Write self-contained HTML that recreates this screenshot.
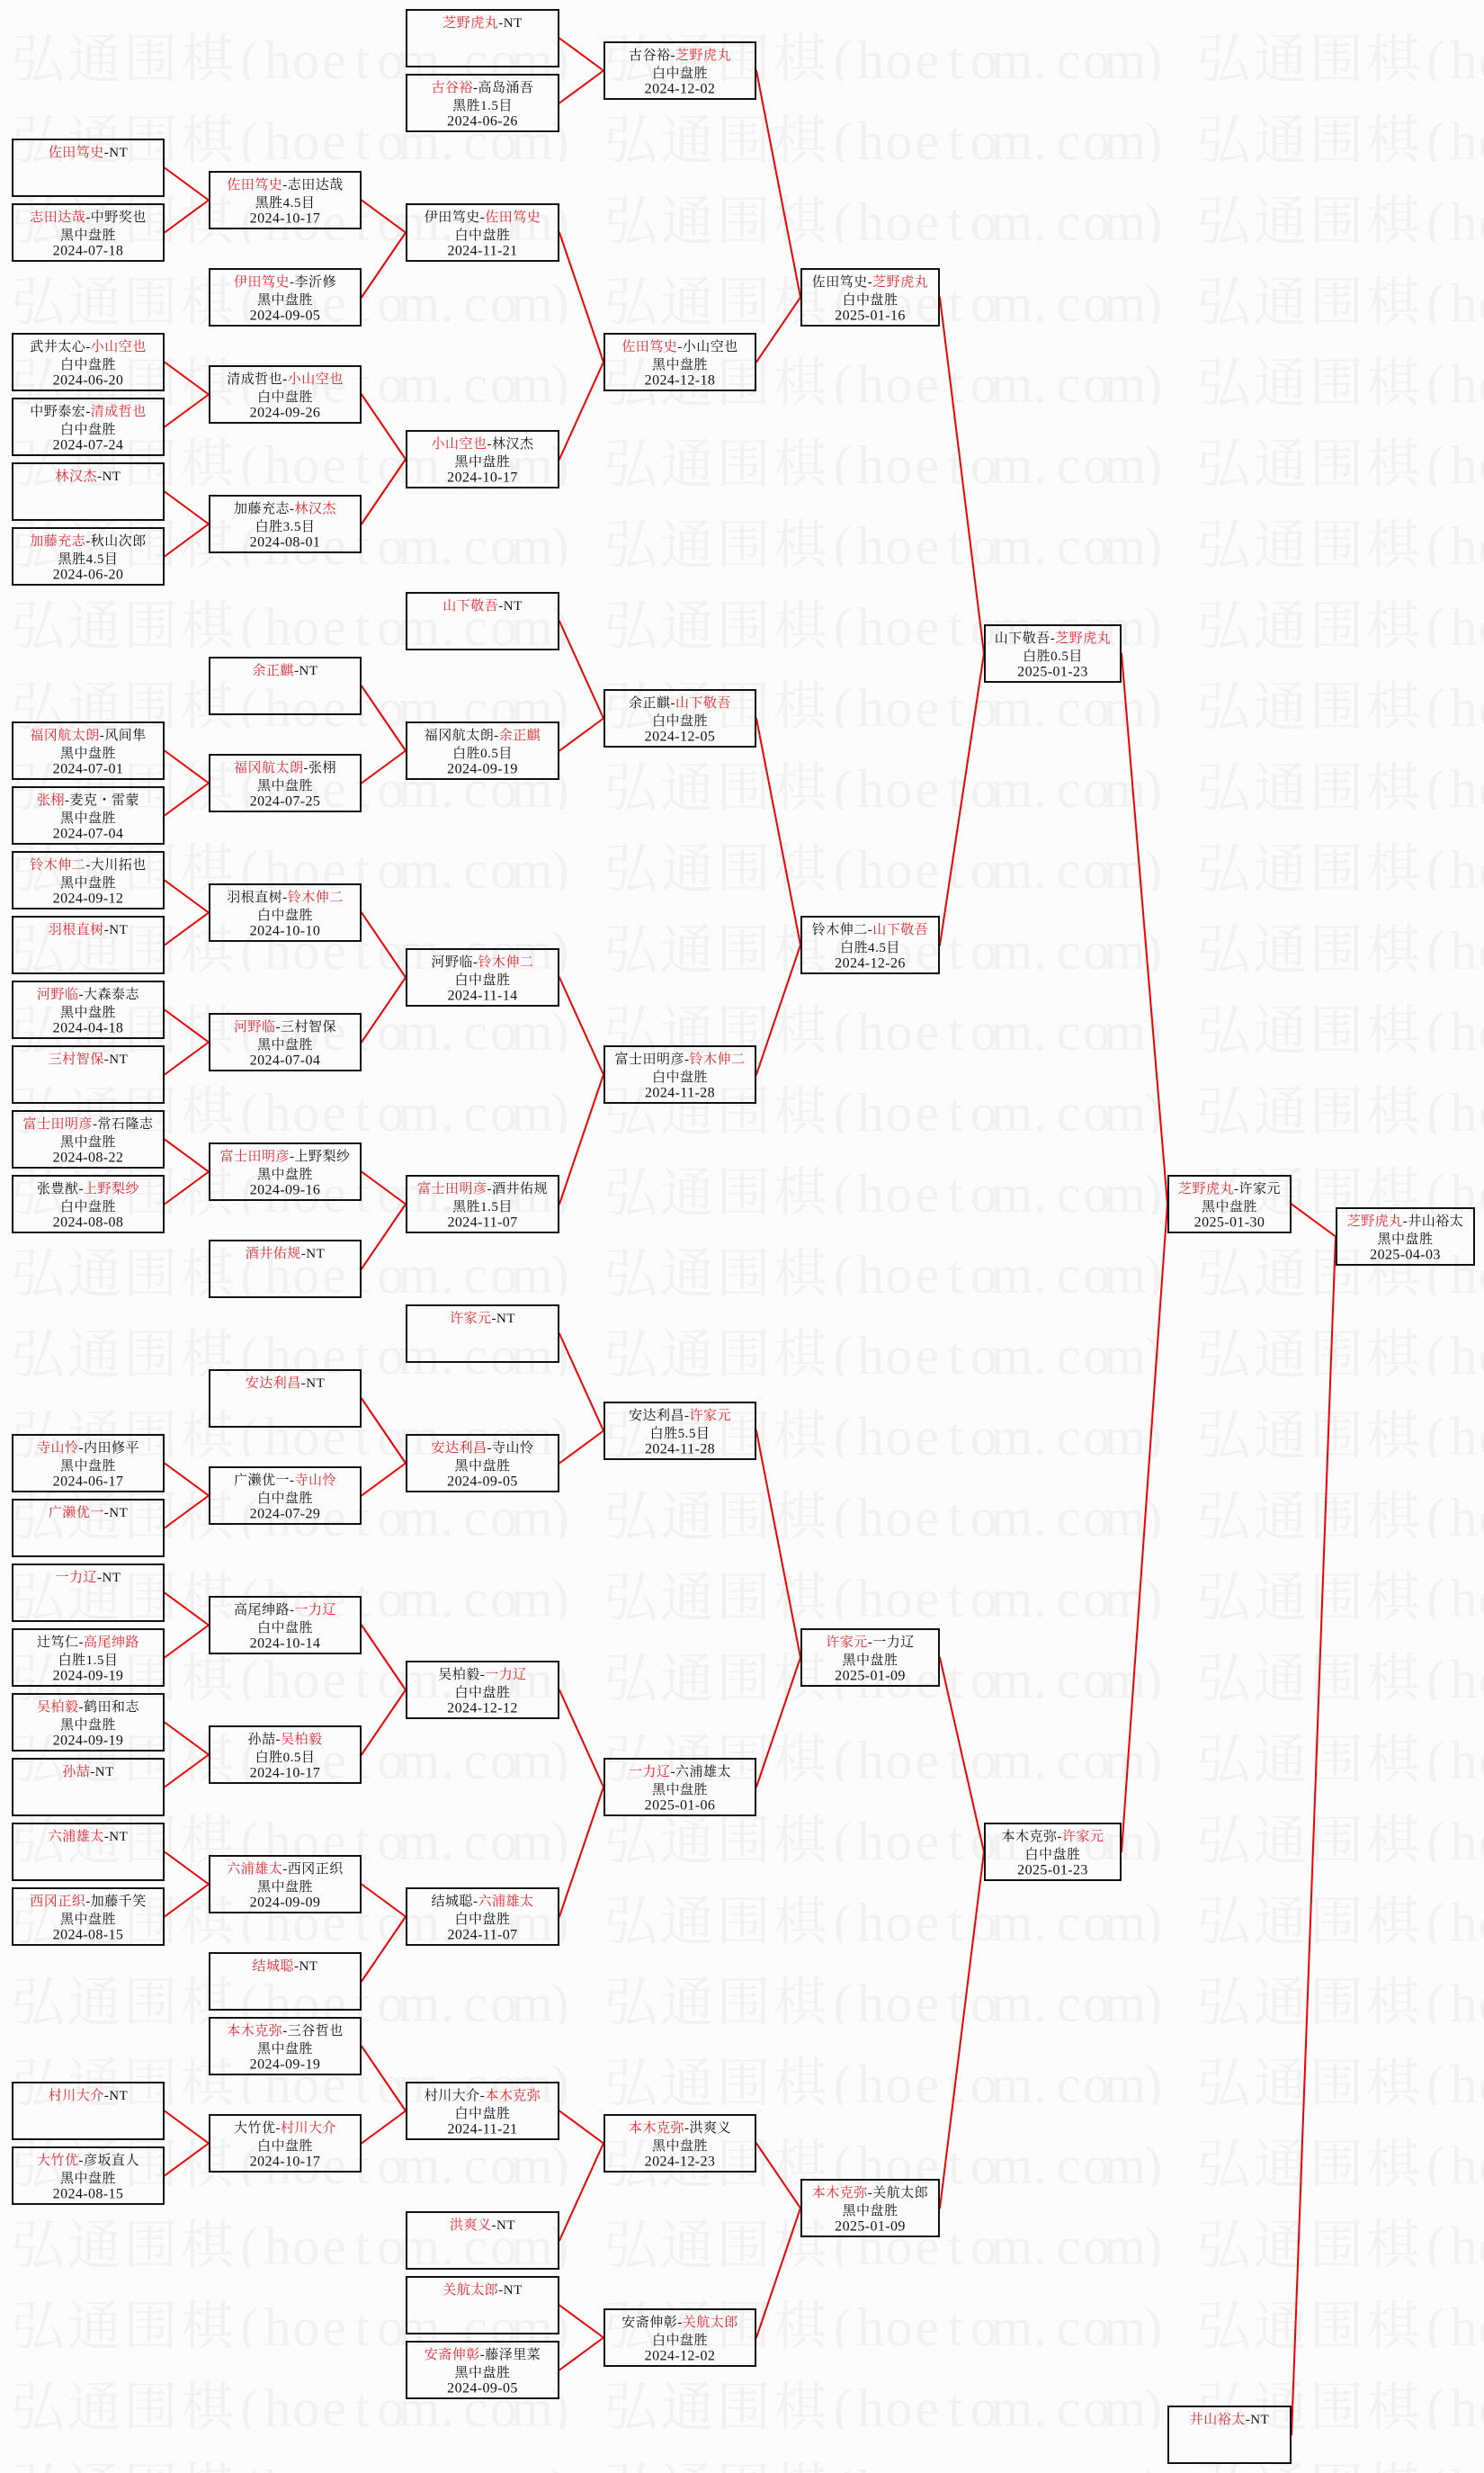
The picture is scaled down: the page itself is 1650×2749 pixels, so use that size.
<!DOCTYPE html>
<html lang="zh">
<head>
<meta charset="utf-8">
<style>
html,body{margin:0;padding:0;background:#fcfcfc;}
body{width:1650px;height:2749px;overflow:hidden;}
svg{display:block;}
.wm text{font-family:"Liberation Serif","Noto Serif CJK SC",serif;font-size:60px;fill:#f1f1f1;text-anchor:middle;}
.bx text{font-family:"Liberation Serif","Noto Serif CJK SC",serif;font-size:15px;fill:#111;text-anchor:middle;letter-spacing:0.5px;}
.bx text.d{font-size:16px;letter-spacing:0.4px;}
.bx tspan.r{fill:#e3262e;}
.bx rect{fill:none;stroke:#111;stroke-width:2;}
.ln line{stroke:#ee0000;stroke-width:2;stroke-linecap:round;}
</style>
</head>
<body>
<svg width="1650" height="2749" viewBox="0 0 1650 2749" xmlns="http://www.w3.org/2000/svg">
<defs>
<pattern id="wmp" x="0" y="0" width="1650" height="90" patternUnits="userSpaceOnUse">
<g class="wm"><text x="41.9 104.7 167.5 230.3 277.4 308.8 340.2 371.6 403 434.4 465.8 497.2 528.6 560 591.4 622.8 701.2 764 826.8 889.6 936.7 968.1 999.5 1030.9 1062.3 1093.7 1125.1 1156.5 1187.9 1219.3 1250.7 1282.1 1360.5 1423.3 1486.1 1548.9 1596 1627.4 1658.8" y="87">弘通围棋(hoetom.com)弘通围棋(hoetom.com)弘通围棋(ho</text></g>
</pattern>
</defs>
<rect x="0" y="4" width="1650" height="2745" fill="url(#wmp)"/>

<g class="ln">
<line x1="183" y1="186.5" x2="232" y2="222.5"/>
<line x1="183" y1="258.5" x2="232" y2="222.5"/>
<line x1="183" y1="402.5" x2="232" y2="438.5"/>
<line x1="183" y1="474.5" x2="232" y2="438.5"/>
<line x1="183" y1="546.5" x2="232" y2="582.5"/>
<line x1="183" y1="618.5" x2="232" y2="582.5"/>
<line x1="183" y1="834.5" x2="232" y2="870.5"/>
<line x1="183" y1="906.5" x2="232" y2="870.5"/>
<line x1="183" y1="978.5" x2="232" y2="1014.5"/>
<line x1="183" y1="1050.5" x2="232" y2="1014.5"/>
<line x1="183" y1="1122.5" x2="232" y2="1158.5"/>
<line x1="183" y1="1194.5" x2="232" y2="1158.5"/>
<line x1="183" y1="1266.5" x2="232" y2="1302.5"/>
<line x1="183" y1="1338.5" x2="232" y2="1302.5"/>
<line x1="183" y1="1626.5" x2="232" y2="1662.5"/>
<line x1="183" y1="1698.5" x2="232" y2="1662.5"/>
<line x1="183" y1="1770.5" x2="232" y2="1806.5"/>
<line x1="183" y1="1842.5" x2="232" y2="1806.5"/>
<line x1="183" y1="1914.5" x2="232" y2="1950.5"/>
<line x1="183" y1="1986.5" x2="232" y2="1950.5"/>
<line x1="183" y1="2058.5" x2="232" y2="2094.5"/>
<line x1="183" y1="2130.5" x2="232" y2="2094.5"/>
<line x1="183" y1="2346.5" x2="232" y2="2382.5"/>
<line x1="183" y1="2418.5" x2="232" y2="2382.5"/>

<line x1="402" y1="222.5" x2="451" y2="258.5"/>
<line x1="402" y1="330.5" x2="451" y2="258.5"/>
<line x1="402" y1="438.5" x2="451" y2="510.5"/>
<line x1="402" y1="582.5" x2="451" y2="510.5"/>
<line x1="402" y1="762.5" x2="451" y2="834.5"/>
<line x1="402" y1="870.5" x2="451" y2="834.5"/>
<line x1="402" y1="1014.5" x2="451" y2="1086.5"/>
<line x1="402" y1="1158.5" x2="451" y2="1086.5"/>
<line x1="402" y1="1302.5" x2="451" y2="1338.5"/>
<line x1="402" y1="1410.5" x2="451" y2="1338.5"/>
<line x1="402" y1="1554.5" x2="451" y2="1626.5"/>
<line x1="402" y1="1662.5" x2="451" y2="1626.5"/>
<line x1="402" y1="1806.5" x2="451" y2="1878.5"/>
<line x1="402" y1="1950.5" x2="451" y2="1878.5"/>
<line x1="402" y1="2094.5" x2="451" y2="2130.5"/>
<line x1="402" y1="2202.5" x2="451" y2="2130.5"/>
<line x1="402" y1="2274.5" x2="451" y2="2346.5"/>
<line x1="402" y1="2382.5" x2="451" y2="2346.5"/>

<line x1="622" y1="42.5" x2="671" y2="78.5"/>
<line x1="622" y1="114.5" x2="671" y2="78.5"/>
<line x1="622" y1="258.5" x2="671" y2="402.5"/>
<line x1="622" y1="510.5" x2="671" y2="402.5"/>
<line x1="622" y1="690.5" x2="671" y2="798.5"/>
<line x1="622" y1="834.5" x2="671" y2="798.5"/>
<line x1="622" y1="1086.5" x2="671" y2="1194.5"/>
<line x1="622" y1="1338.5" x2="671" y2="1194.5"/>
<line x1="622" y1="1482.5" x2="671" y2="1590.5"/>
<line x1="622" y1="1626.5" x2="671" y2="1590.5"/>
<line x1="622" y1="1878.5" x2="671" y2="1986.5"/>
<line x1="622" y1="2130.5" x2="671" y2="1986.5"/>
<line x1="622" y1="2346.5" x2="671" y2="2382.5"/>
<line x1="622" y1="2490.5" x2="671" y2="2382.5"/>
<line x1="622" y1="2562.5" x2="671" y2="2598.5"/>
<line x1="622" y1="2634.5" x2="671" y2="2598.5"/>

<line x1="841" y1="78.5" x2="890" y2="330.5"/>
<line x1="841" y1="402.5" x2="890" y2="330.5"/>
<line x1="841" y1="798.5" x2="890" y2="1050.5"/>
<line x1="841" y1="1194.5" x2="890" y2="1050.5"/>
<line x1="841" y1="1590.5" x2="890" y2="1842.5"/>
<line x1="841" y1="1986.5" x2="890" y2="1842.5"/>
<line x1="841" y1="2382.5" x2="890" y2="2454.5"/>
<line x1="841" y1="2598.5" x2="890" y2="2454.5"/>

<line x1="1045" y1="330.5" x2="1094" y2="726.5"/>
<line x1="1045" y1="1050.5" x2="1094" y2="726.5"/>
<line x1="1045" y1="1842.5" x2="1094" y2="2058.5"/>
<line x1="1045" y1="2454.5" x2="1094" y2="2058.5"/>

<line x1="1247" y1="726.5" x2="1298" y2="1338.5"/>
<line x1="1247" y1="2058.5" x2="1298" y2="1338.5"/>

<line x1="1436" y1="1338.5" x2="1485" y2="1374.5"/>
<line x1="1436" y1="2706.5" x2="1485" y2="1374.5"/>
</g>

<g class="bx">
<!-- Column 0 -->
<g transform="translate(13,154)"><rect x="1" y="1" width="168" height="63"/><text x="85" y="20"><tspan class="r">佐田笃史</tspan>-NT</text></g>
<g transform="translate(13,226)"><rect x="1" y="1" width="168" height="63"/><text x="85" y="20"><tspan class="r">志田达哉</tspan>-中野奖也</text><text x="85" y="40">黑中盘胜</text><text class="d" x="85" y="57.5">2024-07-18</text></g>
<g transform="translate(13,370)"><rect x="1" y="1" width="168" height="63"/><text x="85" y="20">武井太心-<tspan class="r">小山空也</tspan></text><text x="85" y="40">白中盘胜</text><text class="d" x="85" y="57.5">2024-06-20</text></g>
<g transform="translate(13,442)"><rect x="1" y="1" width="168" height="63"/><text x="85" y="20">中野泰宏-<tspan class="r">清成哲也</tspan></text><text x="85" y="40">白中盘胜</text><text class="d" x="85" y="57.5">2024-07-24</text></g>
<g transform="translate(13,514)"><rect x="1" y="1" width="168" height="63"/><text x="85" y="20"><tspan class="r">林汉杰</tspan>-NT</text></g>
<g transform="translate(13,586)"><rect x="1" y="1" width="168" height="63"/><text x="85" y="20"><tspan class="r">加藤充志</tspan>-秋山次郎</text><text x="85" y="40">黑胜4.5目</text><text class="d" x="85" y="57.5">2024-06-20</text></g>
<g transform="translate(13,802)"><rect x="1" y="1" width="168" height="63"/><text x="85" y="20"><tspan class="r">福冈航太朗</tspan>-风间隼</text><text x="85" y="40">黑中盘胜</text><text class="d" x="85" y="57.5">2024-07-01</text></g>
<g transform="translate(13,874)"><rect x="1" y="1" width="168" height="63"/><text x="85" y="20"><tspan class="r">张栩</tspan>-麦克・雷蒙</text><text x="85" y="40">黑中盘胜</text><text class="d" x="85" y="57.5">2024-07-04</text></g>
<g transform="translate(13,946)"><rect x="1" y="1" width="168" height="63"/><text x="85" y="20"><tspan class="r">铃木伸二</tspan>-大川拓也</text><text x="85" y="40">黑中盘胜</text><text class="d" x="85" y="57.5">2024-09-12</text></g>
<g transform="translate(13,1018)"><rect x="1" y="1" width="168" height="63"/><text x="85" y="20"><tspan class="r">羽根直树</tspan>-NT</text></g>
<g transform="translate(13,1090)"><rect x="1" y="1" width="168" height="63"/><text x="85" y="20"><tspan class="r">河野临</tspan>-大森泰志</text><text x="85" y="40">黑中盘胜</text><text class="d" x="85" y="57.5">2024-04-18</text></g>
<g transform="translate(13,1162)"><rect x="1" y="1" width="168" height="63"/><text x="85" y="20"><tspan class="r">三村智保</tspan>-NT</text></g>
<g transform="translate(13,1234)"><rect x="1" y="1" width="168" height="63"/><text x="85" y="20"><tspan class="r">富士田明彦</tspan>-常石隆志</text><text x="85" y="40">黑中盘胜</text><text class="d" x="85" y="57.5">2024-08-22</text></g>
<g transform="translate(13,1306)"><rect x="1" y="1" width="168" height="63"/><text x="85" y="20">张豊猷-<tspan class="r">上野梨纱</tspan></text><text x="85" y="40">白中盘胜</text><text class="d" x="85" y="57.5">2024-08-08</text></g>
<g transform="translate(13,1594)"><rect x="1" y="1" width="168" height="63"/><text x="85" y="20"><tspan class="r">寺山怜</tspan>-内田修平</text><text x="85" y="40">黑中盘胜</text><text class="d" x="85" y="57.5">2024-06-17</text></g>
<g transform="translate(13,1666)"><rect x="1" y="1" width="168" height="63"/><text x="85" y="20"><tspan class="r">广濑优一</tspan>-NT</text></g>
<g transform="translate(13,1738)"><rect x="1" y="1" width="168" height="63"/><text x="85" y="20"><tspan class="r">一力辽</tspan>-NT</text></g>
<g transform="translate(13,1810)"><rect x="1" y="1" width="168" height="63"/><text x="85" y="20">辻笃仁-<tspan class="r">高尾绅路</tspan></text><text x="85" y="40">白胜1.5目</text><text class="d" x="85" y="57.5">2024-09-19</text></g>
<g transform="translate(13,1882)"><rect x="1" y="1" width="168" height="63"/><text x="85" y="20"><tspan class="r">吴柏毅</tspan>-鹤田和志</text><text x="85" y="40">黑中盘胜</text><text class="d" x="85" y="57.5">2024-09-19</text></g>
<g transform="translate(13,1954)"><rect x="1" y="1" width="168" height="63"/><text x="85" y="20"><tspan class="r">孙喆</tspan>-NT</text></g>
<g transform="translate(13,2026)"><rect x="1" y="1" width="168" height="63"/><text x="85" y="20"><tspan class="r">六浦雄太</tspan>-NT</text></g>
<g transform="translate(13,2098)"><rect x="1" y="1" width="168" height="63"/><text x="85" y="20"><tspan class="r">西冈正织</tspan>-加藤千笑</text><text x="85" y="40">黑中盘胜</text><text class="d" x="85" y="57.5">2024-08-15</text></g>
<g transform="translate(13,2314)"><rect x="1" y="1" width="168" height="63"/><text x="85" y="20"><tspan class="r">村川大介</tspan>-NT</text></g>
<g transform="translate(13,2386)"><rect x="1" y="1" width="168" height="63"/><text x="85" y="20"><tspan class="r">大竹优</tspan>-彦坂直人</text><text x="85" y="40">黑中盘胜</text><text class="d" x="85" y="57.5">2024-08-15</text></g>

<!-- Column 1 -->
<g transform="translate(232,190)"><rect x="1" y="1" width="168" height="63"/><text x="85" y="20"><tspan class="r">佐田笃史</tspan>-志田达哉</text><text x="85" y="40">黑胜4.5目</text><text class="d" x="85" y="57.5">2024-10-17</text></g>
<g transform="translate(232,298)"><rect x="1" y="1" width="168" height="63"/><text x="85" y="20"><tspan class="r">伊田笃史</tspan>-李沂修</text><text x="85" y="40">黑中盘胜</text><text class="d" x="85" y="57.5">2024-09-05</text></g>
<g transform="translate(232,406)"><rect x="1" y="1" width="168" height="63"/><text x="85" y="20">清成哲也-<tspan class="r">小山空也</tspan></text><text x="85" y="40">白中盘胜</text><text class="d" x="85" y="57.5">2024-09-26</text></g>
<g transform="translate(232,550)"><rect x="1" y="1" width="168" height="63"/><text x="85" y="20">加藤充志-<tspan class="r">林汉杰</tspan></text><text x="85" y="40">白胜3.5目</text><text class="d" x="85" y="57.5">2024-08-01</text></g>
<g transform="translate(232,730)"><rect x="1" y="1" width="168" height="63"/><text x="85" y="20"><tspan class="r">余正麒</tspan>-NT</text></g>
<g transform="translate(232,838)"><rect x="1" y="1" width="168" height="63"/><text x="85" y="20"><tspan class="r">福冈航太朗</tspan>-张栩</text><text x="85" y="40">黑中盘胜</text><text class="d" x="85" y="57.5">2024-07-25</text></g>
<g transform="translate(232,982)"><rect x="1" y="1" width="168" height="63"/><text x="85" y="20">羽根直树-<tspan class="r">铃木伸二</tspan></text><text x="85" y="40">白中盘胜</text><text class="d" x="85" y="57.5">2024-10-10</text></g>
<g transform="translate(232,1126)"><rect x="1" y="1" width="168" height="63"/><text x="85" y="20"><tspan class="r">河野临</tspan>-三村智保</text><text x="85" y="40">黑中盘胜</text><text class="d" x="85" y="57.5">2024-07-04</text></g>
<g transform="translate(232,1270)"><rect x="1" y="1" width="168" height="63"/><text x="85" y="20"><tspan class="r">富士田明彦</tspan>-上野梨纱</text><text x="85" y="40">黑中盘胜</text><text class="d" x="85" y="57.5">2024-09-16</text></g>
<g transform="translate(232,1378)"><rect x="1" y="1" width="168" height="63"/><text x="85" y="20"><tspan class="r">酒井佑规</tspan>-NT</text></g>
<g transform="translate(232,1522)"><rect x="1" y="1" width="168" height="63"/><text x="85" y="20"><tspan class="r">安达利昌</tspan>-NT</text></g>
<g transform="translate(232,1630)"><rect x="1" y="1" width="168" height="63"/><text x="85" y="20">广濑优一-<tspan class="r">寺山怜</tspan></text><text x="85" y="40">白中盘胜</text><text class="d" x="85" y="57.5">2024-07-29</text></g>
<g transform="translate(232,1774)"><rect x="1" y="1" width="168" height="63"/><text x="85" y="20">高尾绅路-<tspan class="r">一力辽</tspan></text><text x="85" y="40">白中盘胜</text><text class="d" x="85" y="57.5">2024-10-14</text></g>
<g transform="translate(232,1918)"><rect x="1" y="1" width="168" height="63"/><text x="85" y="20">孙喆-<tspan class="r">吴柏毅</tspan></text><text x="85" y="40">白胜0.5目</text><text class="d" x="85" y="57.5">2024-10-17</text></g>
<g transform="translate(232,2062)"><rect x="1" y="1" width="168" height="63"/><text x="85" y="20"><tspan class="r">六浦雄太</tspan>-西冈正织</text><text x="85" y="40">黑中盘胜</text><text class="d" x="85" y="57.5">2024-09-09</text></g>
<g transform="translate(232,2170)"><rect x="1" y="1" width="168" height="63"/><text x="85" y="20"><tspan class="r">结城聪</tspan>-NT</text></g>
<g transform="translate(232,2242)"><rect x="1" y="1" width="168" height="63"/><text x="85" y="20"><tspan class="r">本木克弥</tspan>-三谷哲也</text><text x="85" y="40">黑中盘胜</text><text class="d" x="85" y="57.5">2024-09-19</text></g>
<g transform="translate(232,2350)"><rect x="1" y="1" width="168" height="63"/><text x="85" y="20">大竹优-<tspan class="r">村川大介</tspan></text><text x="85" y="40">白中盘胜</text><text class="d" x="85" y="57.5">2024-10-17</text></g>

<!-- Column 2 -->
<g transform="translate(451,10)"><rect x="1" y="1" width="169" height="63"/><text x="85.5" y="20"><tspan class="r">芝野虎丸</tspan>-NT</text></g>
<g transform="translate(451,82)"><rect x="1" y="1" width="169" height="63"/><text x="85.5" y="20"><tspan class="r">古谷裕</tspan>-高岛涌吾</text><text x="85.5" y="40">黑胜1.5目</text><text class="d" x="85.5" y="57.5">2024-06-26</text></g>
<g transform="translate(451,226)"><rect x="1" y="1" width="169" height="63"/><text x="85.5" y="20">伊田笃史-<tspan class="r">佐田笃史</tspan></text><text x="85.5" y="40">白中盘胜</text><text class="d" x="85.5" y="57.5">2024-11-21</text></g>
<g transform="translate(451,478)"><rect x="1" y="1" width="169" height="63"/><text x="85.5" y="20"><tspan class="r">小山空也</tspan>-林汉杰</text><text x="85.5" y="40">黑中盘胜</text><text class="d" x="85.5" y="57.5">2024-10-17</text></g>
<g transform="translate(451,658)"><rect x="1" y="1" width="169" height="63"/><text x="85.5" y="20"><tspan class="r">山下敬吾</tspan>-NT</text></g>
<g transform="translate(451,802)"><rect x="1" y="1" width="169" height="63"/><text x="85.5" y="20">福冈航太朗-<tspan class="r">余正麒</tspan></text><text x="85.5" y="40">白胜0.5目</text><text class="d" x="85.5" y="57.5">2024-09-19</text></g>
<g transform="translate(451,1054)"><rect x="1" y="1" width="169" height="63"/><text x="85.5" y="20">河野临-<tspan class="r">铃木伸二</tspan></text><text x="85.5" y="40">白中盘胜</text><text class="d" x="85.5" y="57.5">2024-11-14</text></g>
<g transform="translate(451,1306)"><rect x="1" y="1" width="169" height="63"/><text x="85.5" y="20"><tspan class="r">富士田明彦</tspan>-酒井佑规</text><text x="85.5" y="40">黑胜1.5目</text><text class="d" x="85.5" y="57.5">2024-11-07</text></g>
<g transform="translate(451,1450)"><rect x="1" y="1" width="169" height="63"/><text x="85.5" y="20"><tspan class="r">许家元</tspan>-NT</text></g>
<g transform="translate(451,1594)"><rect x="1" y="1" width="169" height="63"/><text x="85.5" y="20"><tspan class="r">安达利昌</tspan>-寺山怜</text><text x="85.5" y="40">黑中盘胜</text><text class="d" x="85.5" y="57.5">2024-09-05</text></g>
<g transform="translate(451,1846)"><rect x="1" y="1" width="169" height="63"/><text x="85.5" y="20">吴柏毅-<tspan class="r">一力辽</tspan></text><text x="85.5" y="40">白中盘胜</text><text class="d" x="85.5" y="57.5">2024-12-12</text></g>
<g transform="translate(451,2098)"><rect x="1" y="1" width="169" height="63"/><text x="85.5" y="20">结城聪-<tspan class="r">六浦雄太</tspan></text><text x="85.5" y="40">白中盘胜</text><text class="d" x="85.5" y="57.5">2024-11-07</text></g>
<g transform="translate(451,2314)"><rect x="1" y="1" width="169" height="63"/><text x="85.5" y="20">村川大介-<tspan class="r">本木克弥</tspan></text><text x="85.5" y="40">白中盘胜</text><text class="d" x="85.5" y="57.5">2024-11-21</text></g>
<g transform="translate(451,2458)"><rect x="1" y="1" width="169" height="63"/><text x="85.5" y="20"><tspan class="r">洪爽义</tspan>-NT</text></g>
<g transform="translate(451,2530)"><rect x="1" y="1" width="169" height="63"/><text x="85.5" y="20"><tspan class="r">关航太郎</tspan>-NT</text></g>
<g transform="translate(451,2602)"><rect x="1" y="1" width="169" height="63"/><text x="85.5" y="20"><tspan class="r">安斋伸彰</tspan>-藤泽里菜</text><text x="85.5" y="40">黑中盘胜</text><text class="d" x="85.5" y="57.5">2024-09-05</text></g>

<!-- Column 3 -->
<g transform="translate(671,46)"><rect x="1" y="1" width="168" height="63"/><text x="85" y="20">古谷裕-<tspan class="r">芝野虎丸</tspan></text><text x="85" y="40">白中盘胜</text><text class="d" x="85" y="57.5">2024-12-02</text></g>
<g transform="translate(671,370)"><rect x="1" y="1" width="168" height="63"/><text x="85" y="20"><tspan class="r">佐田笃史</tspan>-小山空也</text><text x="85" y="40">黑中盘胜</text><text class="d" x="85" y="57.5">2024-12-18</text></g>
<g transform="translate(671,766)"><rect x="1" y="1" width="168" height="63"/><text x="85" y="20">余正麒-<tspan class="r">山下敬吾</tspan></text><text x="85" y="40">白中盘胜</text><text class="d" x="85" y="57.5">2024-12-05</text></g>
<g transform="translate(671,1162)"><rect x="1" y="1" width="168" height="63"/><text x="85" y="20">富士田明彦-<tspan class="r">铃木伸二</tspan></text><text x="85" y="40">白中盘胜</text><text class="d" x="85" y="57.5">2024-11-28</text></g>
<g transform="translate(671,1558)"><rect x="1" y="1" width="168" height="63"/><text x="85" y="20">安达利昌-<tspan class="r">许家元</tspan></text><text x="85" y="40">白胜5.5目</text><text class="d" x="85" y="57.5">2024-11-28</text></g>
<g transform="translate(671,1954)"><rect x="1" y="1" width="168" height="63"/><text x="85" y="20"><tspan class="r">一力辽</tspan>-六浦雄太</text><text x="85" y="40">黑中盘胜</text><text class="d" x="85" y="57.5">2025-01-06</text></g>
<g transform="translate(671,2350)"><rect x="1" y="1" width="168" height="63"/><text x="85" y="20"><tspan class="r">本木克弥</tspan>-洪爽义</text><text x="85" y="40">黑中盘胜</text><text class="d" x="85" y="57.5">2024-12-23</text></g>
<g transform="translate(671,2566)"><rect x="1" y="1" width="168" height="63"/><text x="85" y="20">安斋伸彰-<tspan class="r">关航太郎</tspan></text><text x="85" y="40">白中盘胜</text><text class="d" x="85" y="57.5">2024-12-02</text></g>

<!-- Column 4 -->
<g transform="translate(890,298)"><rect x="1" y="1" width="153" height="63"/><text x="77.5" y="20">佐田笃史-<tspan class="r">芝野虎丸</tspan></text><text x="77.5" y="40">白中盘胜</text><text class="d" x="77.5" y="57.5">2025-01-16</text></g>
<g transform="translate(890,1018)"><rect x="1" y="1" width="153" height="63"/><text x="77.5" y="20">铃木伸二-<tspan class="r">山下敬吾</tspan></text><text x="77.5" y="40">白胜4.5目</text><text class="d" x="77.5" y="57.5">2024-12-26</text></g>
<g transform="translate(890,1810)"><rect x="1" y="1" width="153" height="63"/><text x="77.5" y="20"><tspan class="r">许家元</tspan>-一力辽</text><text x="77.5" y="40">黑中盘胜</text><text class="d" x="77.5" y="57.5">2025-01-09</text></g>
<g transform="translate(890,2422)"><rect x="1" y="1" width="153" height="63"/><text x="77.5" y="20"><tspan class="r">本木克弥</tspan>-关航太郎</text><text x="77.5" y="40">黑中盘胜</text><text class="d" x="77.5" y="57.5">2025-01-09</text></g>

<!-- Column 5 -->
<g transform="translate(1094,694)"><rect x="1" y="1" width="151" height="63"/><text x="76.5" y="20">山下敬吾-<tspan class="r">芝野虎丸</tspan></text><text x="76.5" y="40">白胜0.5目</text><text class="d" x="76.5" y="57.5">2025-01-23</text></g>
<g transform="translate(1094,2026)"><rect x="1" y="1" width="151" height="63"/><text x="76.5" y="20">本木克弥-<tspan class="r">许家元</tspan></text><text x="76.5" y="40">白中盘胜</text><text class="d" x="76.5" y="57.5">2025-01-23</text></g>

<!-- Column 6 -->
<g transform="translate(1298,1306)"><rect x="1" y="1" width="136" height="63"/><text x="69" y="20"><tspan class="r">芝野虎丸</tspan>-许家元</text><text x="69" y="40">黑中盘胜</text><text class="d" x="69" y="57.5">2025-01-30</text></g>
<g transform="translate(1298,2674)"><rect x="1" y="1" width="136" height="63"/><text x="69" y="20"><tspan class="r">井山裕太</tspan>-NT</text></g>

<!-- Column 7 -->
<g transform="translate(1485,1342)"><rect x="1" y="1" width="153" height="63"/><text x="77.5" y="20"><tspan class="r">芝野虎丸</tspan>-井山裕太</text><text x="77.5" y="40">黑中盘胜</text><text class="d" x="77.5" y="57.5">2025-04-03</text></g>
</g>
</svg>
</body>
</html>
